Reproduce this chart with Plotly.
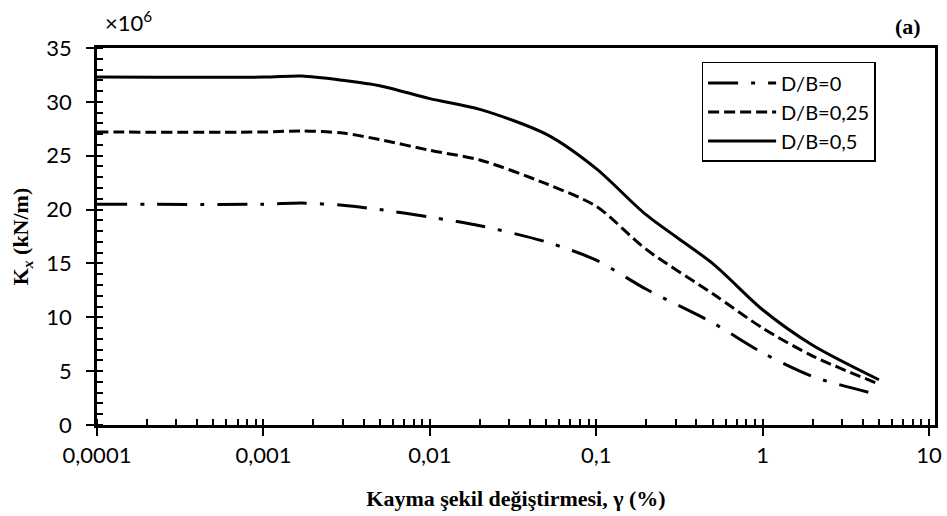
import plotly.graph_objects as go

# Shear strain (%) values
gamma = [0.0001, 0.001, 0.0017, 0.003, 0.005, 0.01, 0.02, 0.05, 0.1, 0.2, 0.5, 1, 2, 5]

# Kx (x10^6 kN/m) for each D/B
kx_db0 = [20.5, 20.5, 20.6, 20.4, 20.0, 19.3, 18.5, 17.0, 15.3, 12.6, 9.5, 6.7, 4.5, 2.8]
kx_db025 = [27.2, 27.2, 27.3, 27.1, 26.5, 25.5, 24.6, 22.4, 20.3, 16.3, 12.2, 9.0, 6.4, 3.8]
kx_db05 = [32.3, 32.3, 32.4, 32.0, 31.5, 30.3, 29.3, 27.0, 23.8, 19.5, 15.0, 10.7, 7.4, 4.2]

series_names = ["D/B=0", "D/B=0,25", "D/B=0,5"]

x_tickvals = [0.0001, 0.001, 0.01, 0.1, 1, 10]
x_ticktext = ["0,0001", "0,001", "0,01", "0,1", "1", "10"]
y_tickvals = [0, 5, 10, 15, 20, 25, 30, 35]

tick_font = dict(family="Lato", size=22, color="black")
title_font = dict(family="Liberation Serif", size=22, color="black", weight="bold")

fig = go.Figure()
dashes = ["30px,13px,4px,13px", "11px,5px", "solid"]
for name, ys, dash in zip(series_names, [kx_db0, kx_db025, kx_db05], dashes):
    fig.add_trace(go.Scatter(
        x=gamma, y=ys, mode="lines", name=name,
        line=dict(color="black", width=3, dash=dash, shape="spline", smoothing=0.8),
    ))

fig.update_layout(
    width=947, height=516,
    margin=dict(l=97, r=12, t=48, b=91),
    paper_bgcolor="white", plot_bgcolor="white",
    showlegend=True,
    legend=dict(
        x=0.7215, y=0.963, xanchor="left", yanchor="top",
        bordercolor="black", borderwidth=1.5, bgcolor="white",
        font=dict(family="Lato", size=20, color="black"),
        itemwidth=68, tracegroupgap=0,
    ),
    xaxis=dict(
        type="log", range=[-4, 1.036], automargin=False,
        tickvals=x_tickvals, ticktext=x_ticktext,
        ticks="outside", ticklen=8, tickwidth=2, tickcolor="black",
        showline=True, linecolor="black", linewidth=2.5, mirror=True,
        showgrid=False, zeroline=False,
        tickfont=tick_font, ticklabelstandoff=1,
        minor=dict(ticks="inside", ticklen=6, tickwidth=1.5, tickcolor="black",
                   dtick="D1", showgrid=False),
        title=dict(text="Kayma şekil değiştirmesi, γ (%)", font=title_font, standoff=24),
    ),
    yaxis=dict(
        range=[0, 35], automargin=False,
        tickvals=y_tickvals,
        ticks="outside", ticklen=8, tickwidth=2, tickcolor="black",
        showline=True, linecolor="black", linewidth=2.5, mirror=True,
        showgrid=False, zeroline=False,
        tickfont=tick_font, ticklabelstandoff=10,
        minor=dict(ticks="inside", ticklen=6, tickwidth=1.5, tickcolor="black", dtick=1, showgrid=False),
        title=dict(text="K<sub><i>x</i></sub> (kN/m)", font=title_font, standoff=12),
    ),
    xaxis2=dict(
        type="log", range=[-4, 1.036], overlaying="x", side="bottom", automargin=False,
        tickvals=x_tickvals, showticklabels=False,
        ticks="inside", ticklen=6, tickwidth=2, tickcolor="black",
        showline=False, showgrid=False, zeroline=False,
    ),
    yaxis2=dict(
        range=[0, 35], overlaying="y", side="left", automargin=False,
        tickvals=y_tickvals, showticklabels=False,
        ticks="inside", ticklen=6, tickwidth=2, tickcolor="black",
        showline=False, showgrid=False, zeroline=False,
    ),
    annotations=[
        dict(text="×10<sup>6</sup>", xref="paper", yref="paper", x=0.007, y=1.07,
             xanchor="left", yanchor="middle", showarrow=False,
             font=dict(family="Lato", size=22, color="black")),
        dict(text="<b>(a)</b>", xref="paper", yref="paper", x=0.9857, y=1.058,
             xanchor="right", yanchor="middle", showarrow=False,
             font=dict(family="Liberation Serif", size=22, color="black")),
    ],
)

fig.write_html("out.html", config={"displayModeBar": False},
               post_script="document.body.style.margin='0';document.body.style.overflow='hidden';")
